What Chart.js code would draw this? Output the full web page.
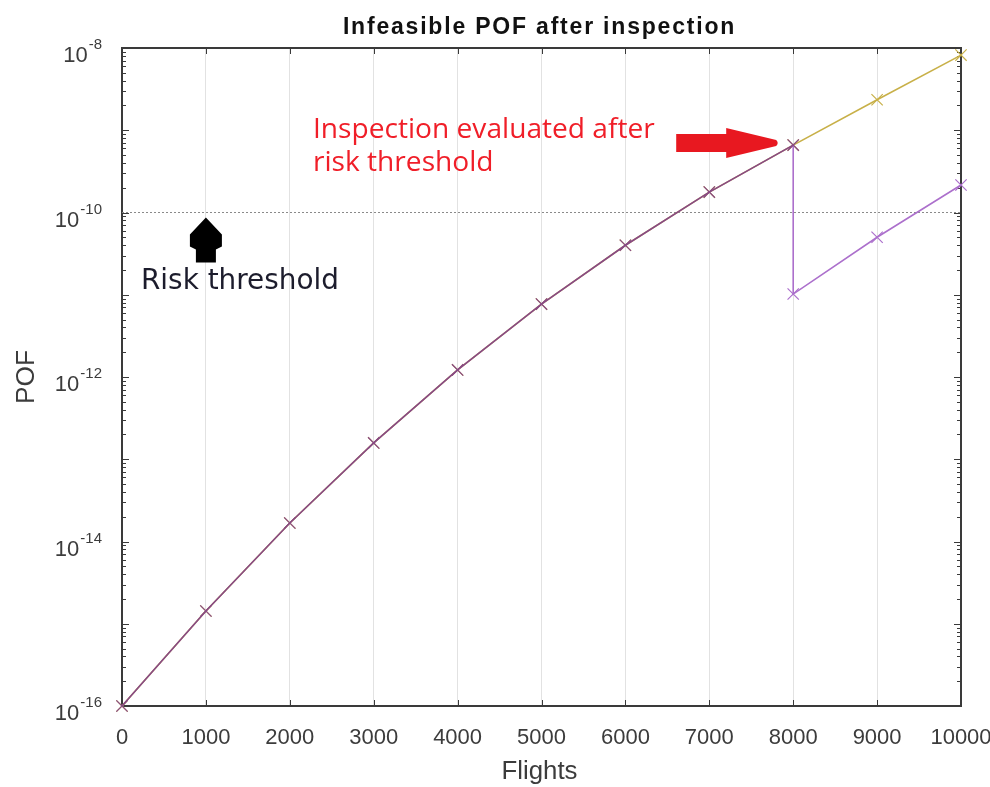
<!DOCTYPE html>
<html>
<head>
<meta charset="utf-8">
<script src="https://cdn.jsdelivr.net/npm/chart.js@4.4.0/dist/chart.umd.min.js"></script>
<style>
  html, body { margin: 0; padding: 0; background: #fff; }
  #wrap { width: 990px; height: 787px; }
</style>
</head>
<body>
<div id="wrap"><canvas id="pof"></canvas></div>
<script>
var flights = [0, 1000, 2000, 3000, 4000, 5000, 6000, 7000, 8000, 9000, 10000];
var pofNoInspection = [1e-16, 1.43e-15, 1.68e-14, 1.58e-13, 1.22e-12, 7.7e-12, 4.0e-11, 1.77e-10, 6.6e-10, 2.35e-9, 8.2e-9];
var inspectionFlights = [8000, 9000, 10000];
var pofAfterInspection = [1.02e-11, 5.0e-11, 2.16e-10];
var riskThreshold = 1e-10;
var xTickValues = [0, 1000, 2000, 3000, 4000, 5000, 6000, 7000, 8000, 9000, 10000];
var yTickExponents = [-8, -10, -12, -14, -16];

var yellow = "rgb(200,176,72)";
var mauve = "rgb(135,72,135)";
var lilac = "rgb(172,112,204)";
var inspectAt = 8000;

// purple curve: follows the uninspected curve up to the inspection, then drops
var withInspection = [];
for (var i = 0; i < flights.length; i++) {
    if (flights[i] <= inspectAt) withInspection.push({ x: flights[i], y: pofNoInspection[i] });
}
for (var j = 0; j < inspectionFlights.length; j++) {
    withInspection.push({ x: inspectionFlights[j], y: pofAfterInspection[j] });
}
var noInspection = flights.map(function (f, k) { return { x: f, y: pofNoInspection[k] }; });
var thresholdLine = [{ x: flights[0], y: riskThreshold }, { x: flights[flights.length - 1], y: riskThreshold }];

function fitFont(ctx, text, width, weight, family) {
    ctx.font = weight + " 100px " + family;
    return 100 * width / ctx.measureText(text).width;
}

var decor = {
    id: "decor",
    beforeDatasetsDraw: function (chart) {
        var ctx = chart.ctx, a = chart.chartArea;
        var xs = chart.scales.x, ys = chart.scales.y;
        ctx.save();
        ctx.strokeStyle = "#3a3a3a";
        ctx.lineWidth = 1;
        // x ticks, top and bottom, pointing in
        xTickValues.forEach(function (v) {
            var px = Math.round(xs.getPixelForValue(v)) + 0.5;
            ctx.beginPath();
            ctx.moveTo(px, a.bottom); ctx.lineTo(px, a.bottom - 6);
            ctx.moveTo(px, a.top); ctx.lineTo(px, a.top + 6);
            ctx.stroke();
        });
        // y ticks, major and minor
        for (var e = -16; e < -8; e++) {
            for (var m = 1; m <= 9; m++) {
                var py = Math.round(ys.getPixelForValue(m * Math.pow(10, e))) + 0.5;
                var len = m === 1 ? 7 : 4;
                ctx.beginPath();
                ctx.moveTo(a.left, py); ctx.lineTo(a.left + len, py);
                ctx.moveTo(a.right, py); ctx.lineTo(a.right - len, py);
                ctx.stroke();
            }
        }
        ctx.lineWidth = 2;
        ctx.strokeRect(a.left, a.top, a.right - a.left, a.bottom - a.top);
        ctx.restore();
    },
    afterDraw: function (chart) {
        var ctx = chart.ctx, a = chart.chartArea;
        var xs = chart.scales.x, ys = chart.scales.y;
        var cx = (a.left + a.right) / 2;
        ctx.save();
        ctx.fillStyle = "#3c3c3c";
        ctx.textBaseline = "alphabetic";

        // x tick labels
        ctx.font = "22px 'Liberation Sans'";
        ctx.textAlign = "center";
        xTickValues.forEach(function (v) {
            ctx.fillText(String(v), xs.getPixelForValue(v), 744);
        });

        // y tick labels 10^n
        yTickExponents.forEach(function (n) {
            var py = ys.getPixelForValue(Math.pow(10, n));
            ctx.font = "15px 'Liberation Sans'";
            ctx.textAlign = "right";
            var ex = "-" + String(-n);
            var ew = ctx.measureText(ex).width;
            ctx.fillText(ex, 102, py + 1);
            ctx.font = "22px 'Liberation Sans'";
            ctx.fillText("10", 101 - ew, py + 14);
        });

        // axis titles
        ctx.textAlign = "center";
        ctx.font = fitFont(ctx, "Flights", 76, "normal", "'Liberation Sans'") + "px 'Liberation Sans'";
        ctx.fillText("Flights", cx - 2, 779);
        ctx.save();
        ctx.translate(34, (a.top + a.bottom) / 2);
        ctx.rotate(-Math.PI / 2);
        ctx.font = fitFont(ctx, "POF", 54, "normal", "'Liberation Sans'") + "px 'Liberation Sans'";
        ctx.fillText("POF", 0, 0);
        ctx.restore();

        // title
        ctx.fillStyle = "#111";
        ctx.font = "bold 23px 'Liberation Sans'";
        ctx.letterSpacing = "1.8px";
        ctx.fillText("Infeasible POF after inspection", cx - 2, 34);
        ctx.letterSpacing = "0px";

        // red note and arrow
        ctx.fillStyle = "rgb(240,30,40)";
        ctx.textAlign = "left";
        var l1 = "Inspection evaluated after";
        ctx.font = fitFont(ctx, l1, 342, "normal", "'Open Sans'") + "px 'Open Sans'";
        ctx.fillText(l1, 313, 138);
        ctx.fillText("risk threshold", 313, 171);

        var tipX = xs.getPixelForValue(inspectAt) - 17;
        var tipY = 143;
        ctx.fillStyle = "rgb(232,24,32)";
        ctx.beginPath();
        ctx.moveTo(tipX - 100, tipY - 9);
        ctx.lineTo(tipX - 50, tipY - 9);
        ctx.lineTo(tipX - 50, tipY - 15);
        ctx.lineTo(tipX, tipY - 3);
        ctx.quadraticCurveTo(tipX + 3, tipY, tipX, tipY + 3);
        ctx.lineTo(tipX - 50, tipY + 15);
        ctx.lineTo(tipX - 50, tipY + 9);
        ctx.lineTo(tipX - 100, tipY + 9);
        ctx.closePath();
        ctx.fill();

        // black arrow and risk threshold label
        var ax = xs.getPixelForValue(1000);
        var ay = ys.getPixelForValue(riskThreshold) + 5;
        ctx.fillStyle = "#000";
        ctx.beginPath();
        ctx.moveTo(ax, ay);
        ctx.lineTo(ax + 16, ay + 17);
        ctx.lineTo(ax + 16, ay + 29);
        ctx.lineTo(ax + 10, ay + 32);
        ctx.lineTo(ax + 10, ay + 45);
        ctx.lineTo(ax - 10, ay + 45);
        ctx.lineTo(ax - 10, ay + 32);
        ctx.lineTo(ax - 16, ay + 29);
        ctx.lineTo(ax - 16, ay + 17);
        ctx.closePath();
        ctx.fill();

        ctx.fillStyle = "#1c1c2c";
        var rt = "Risk threshold";
        ctx.font = fitFont(ctx, rt, 198, "normal", "'DejaVu Sans'") + "px 'DejaVu Sans'";
        ctx.fillText(rt, 141, 289);
        ctx.restore();
    }
};

var ctx = document.getElementById("pof").getContext("2d");
var chart = new Chart(ctx, {
    type: "line",
    data: {
        datasets: [
            {
                label: "With inspection",
                data: withInspection,
                borderColor: mauve,
                borderWidth: 1.6,
                pointStyle: "crossRot",
                pointRadius: 8,
                pointBorderWidth: 1.2,
                pointBorderColor: withInspection.map(function (p, k) { return k > flights.indexOf(inspectAt) ? lilac : mauve; }),
                segment: {
                    borderColor: function (c) { return c.p0.parsed.x >= inspectAt ? lilac : mauve; }
                },
                tension: 0,
                clip: false,
                order: 0
            },
            {
                label: "No inspection",
                data: noInspection,
                borderColor: yellow,
                borderWidth: 1.6,
                pointStyle: "crossRot",
                pointRadius: 8,
                pointBorderWidth: 1.2,
                pointBorderColor: yellow,
                tension: 0,
                clip: false,
                order: 1
            },
            {
                label: "Risk threshold",
                data: thresholdLine,
                borderColor: "#8a8a8a",
                borderWidth: 1,
                borderDash: [2, 2],
                pointRadius: 0,
                clip: false,
                order: 2
            }
        ]
    },
    options: {
        responsive: true,
        maintainAspectRatio: false,
        animation: false,
        events: [],
        layout: { padding: { left: 122, right: 29, top: 48, bottom: 81 } },
        plugins: {
            legend: { display: false },
            tooltip: { enabled: false },
            title: { display: false }
        },
        scales: {
            x: {
                type: "linear",
                min: 0,
                max: 10000,
                ticks: { display: false, stepSize: 1000 },
                border: { display: false },
                grid: { color: "#e2e2e2", lineWidth: 1, drawTicks: false }
            },
            y: {
                type: "logarithmic",
                min: 1e-16,
                max: 1e-8,
                ticks: { display: false },
                border: { display: false },
                grid: { display: false, drawTicks: false }
            }
        }
    },
    plugins: [decor]
});
</script>
</body>
</html>
